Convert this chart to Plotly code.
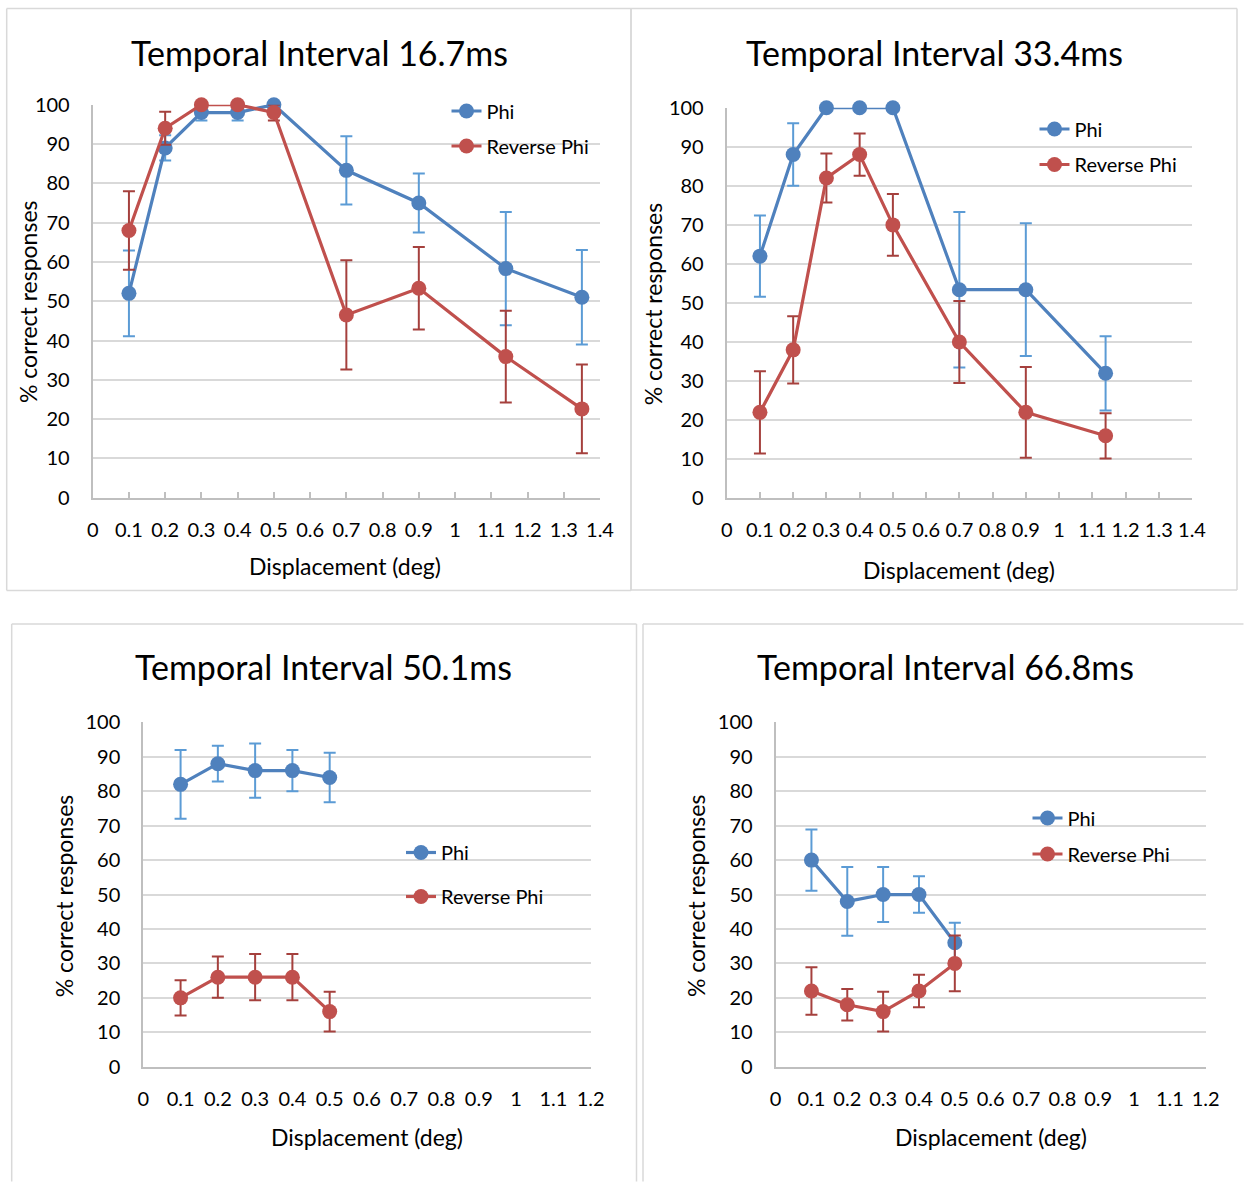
import plotly.graph_objects as go

# ---------------- data ----------------
panel_titles = [
    "Temporal Interval 16.7ms",
    "Temporal Interval 33.4ms",
    "Temporal Interval 50.1ms",
    "Temporal Interval 66.8ms",
]
series_names = ["Phi", "Reverse Phi"]
y_axis_title = "% correct responses"
x_axis_title = "Displacement (deg)"

# 16.7 ms
disp_167 = [0.1, 0.2, 0.3, 0.4, 0.5, 0.7, 0.9, 1.14, 1.35]
phi_167 = [52, 89, 98, 98, 100, 83.3, 75, 58.3, 51]
phi_167_err = [10.9, 3.2, 2, 2, 0, 8.7, 7.5, 14.4, 12]
rev_167 = [68, 94, 100, 100, 98, 46.5, 53.3, 35.9, 22.6]
rev_167_err = [10, 4.2, 0, 0, 2, 13.9, 10.5, 11.7, 11.3]

# 33.4 ms
disp_334 = [0.1, 0.2, 0.3, 0.4, 0.5, 0.7, 0.9, 1.14]
phi_334 = [62, 88, 100, 100, 100, 53.4, 53.4, 32]
phi_334_err = [10.4, 8, 0, 0, 0, 19.9, 17, 9.5]
rev_334 = [22, 38, 82, 88, 70, 40, 22, 16]
rev_334_err = [10.5, 8.6, 6.3, 5.4, 7.9, 10.5, 11.6, 5.8]

# 50.1 ms
disp_501 = [0.1, 0.2, 0.3, 0.4, 0.5]
phi_501 = [82, 88, 86, 86, 84]
phi_501_err = [10, 5.2, 7.9, 6, 7.2]
rev_501 = [20, 26, 26, 26, 16]
rev_501_err = [5.1, 6, 6.7, 6.7, 5.8]

# 66.8 ms
disp_668 = [0.1, 0.2, 0.3, 0.4, 0.5]
phi_668 = [60, 48, 50, 50, 36]
phi_668_err = [8.9, 10, 8, 5.3, 5.8]
rev_668 = [22, 18, 16, 22, 30]
rev_668_err = [6.9, 4.6, 5.8, 4.7, 8.1]

x_ticks_14 = [0, 0.1, 0.2, 0.3, 0.4, 0.5, 0.6, 0.7, 0.8, 0.9, 1.0, 1.1, 1.2, 1.3, 1.4]
x_labels_14 = ["0", "0.1", "0.2", "0.3", "0.4", "0.5", "0.6", "0.7", "0.8", "0.9", "1", "1.1", "1.2", "1.3", "1.4"]
x_ticks_12 = x_ticks_14[:13]
x_labels_12 = x_labels_14[:13]
y_ticks = [0, 10, 20, 30, 40, 50, 60, 70, 80, 90, 100]

# ---------------- styling / layout ----------------
W, H = 1244, 1182
FONT = "Lato"
BLUE, RED = "#4f81bd", "#c0504d"
BLUE_ERR, RED_ERR = "#5b9bd5", "#a5403d"
GRID, AXIS, FRAME = "#d9d9d9", "#bfbfbf", "#d9d9d9"


def px_x(p):
    return p / W


def px_y(p):
    return 1 - p / H


# frame edges: (left, right, top, bottom); None = edge not drawn (runs off the page)
panels = [
    dict(data=(disp_167, phi_167, phi_167_err, rev_167, rev_167_err),
         plot=(92.7, 600.0, 104.7, 497.7), xmax=1.4, ticks=(x_ticks_14, x_labels_14), inside_ticks=True,
         frame=(6.7, 631, 8.5, 590.5), title=(319, 52), ytitle=(28.6, 301.4), xtitle=(345, 565.5),
         legend=(446.5, 91.5), gap=6),
    dict(data=(disp_334, phi_334, phi_334_err, rev_334, rev_334_err),
         plot=(726.7, 1192.0, 107.7, 498.3), xmax=1.4, ticks=(x_ticks_14, x_labels_14), inside_ticks=True,
         frame=(631, 1237, 8.5, 590), title=(934.5, 52), ytitle=(652.7, 303.6), xtitle=(959, 570),
         legend=(1034.5, 109.5), gap=6.5),
    dict(data=(disp_501, phi_501, phi_501_err, rev_501, rev_501_err),
         plot=(143.3, 590.6, 722.4, 1066.7), xmax=1.2, ticks=(x_ticks_12, x_labels_12), inside_ticks=False,
         frame=(11.7, 636.5, 624, None), title=(323.5, 666), ytitle=(63.5, 895.7), xtitle=(367, 1136.5),
         legend=(401, 833), gap=15),
    dict(data=(disp_668, phi_668, phi_668_err, rev_668, rev_668_err),
         plot=(775.6, 1205.7, 722.4, 1066.7), xmax=1.2, ticks=(x_ticks_12, x_labels_12), inside_ticks=False,
         frame=(643, None, 624, None), title=(946, 666), ytitle=(695.4, 895.7), xtitle=(991, 1137),
         legend=(1027.5, 798.5), gap=7),
]

fig = go.Figure()
shapes, annotations = [], []
layout_axes = {}


def frame_line(xa, ya, xb, yb):
    return dict(type="line", xref="paper", yref="paper",
                x0=px_x(xa), y0=px_y(ya), x1=px_x(xb), y1=px_y(yb),
                line=dict(color=FRAME, width=1.5), layer="below")


for i, p in enumerate(panels, start=1):
    sfx = "" if i == 1 else str(i)
    xa, ya = f"x{sfx}", f"y{sfx}"
    leg = "legend" if i == 1 else f"legend{i}"
    x, phi, phi_err, rev, rev_err = p["data"]

    for name, yv, err, col, ecol in (
        (series_names[0], phi, phi_err, BLUE, BLUE_ERR),
        (series_names[1], rev, rev_err, RED, RED_ERR),
    ):
        fig.add_trace(go.Scatter(
            x=x, y=yv, name=name, mode="lines+markers",
            xaxis=xa, yaxis=ya, legend=leg, legendgroup=f"{leg}-{name}",
            line=dict(color=col, width=3.2),
            marker=dict(color=col, size=15),
            error_y=dict(type="data", array=err, visible=True, color=ecol, thickness=2, width=6),
            cliponaxis=False,
        ))

    x0, x1, y0, y1 = p["plot"]
    tv, tt = p["ticks"]
    layout_axes[f"xaxis{sfx}"] = dict(
        domain=[px_x(x0), px_x(x1)], anchor=ya, range=[0, p["xmax"]],
        tickvals=tv, ticktext=tt, showgrid=False, zeroline=False,
        showline=True, linecolor=AXIS, linewidth=2,
        ticks="inside" if p["inside_ticks"] else "", ticklen=6, tickwidth=1.5, tickcolor=AXIS,
        tickfont=dict(family=FONT, size=20, color="#000000"), ticklabelstandoff=13,
        automargin=False, fixedrange=True,
    )
    layout_axes[f"yaxis{sfx}"] = dict(
        domain=[px_y(y1), px_y(y0)], anchor=xa, range=[0, 100],
        tickvals=y_ticks, showgrid=True, gridcolor=GRID, gridwidth=2, zeroline=False,
        showline=True, linecolor=AXIS, linewidth=2, ticks="",
        tickfont=dict(family=FONT, size=20, color="#000000"), ticklabelstandoff=17,
        automargin=False, fixedrange=True,
    )

    lx, ly = p["legend"]
    layout_axes[leg] = dict(
        x=px_x(lx), y=px_y(ly), xanchor="left", yanchor="top",
        font=dict(family=FONT, size=20, color="#000000"),
        bgcolor="rgba(0,0,0,0)", tracegroupgap=p["gap"], itemclick=False,
    )

    fl, fr, ft, fb = p["frame"]
    right = fr if fr is not None else W - 0.5
    bottom = fb if fb is not None else H - 0.5
    shapes.append(frame_line(fl, ft, right, ft))
    shapes.append(frame_line(fl, ft, fl, bottom))
    if fr is not None:
        shapes.append(frame_line(fr, ft, fr, bottom))
    if fb is not None:
        shapes.append(frame_line(fl, fb, right, fb))

    tx, ty = p["title"]
    annotations.append(dict(text=panel_titles[i - 1], xref="paper", yref="paper",
                            x=px_x(tx), y=px_y(ty), xanchor="center", yanchor="middle",
                            showarrow=False, font=dict(family=FONT, size=34, color="#000000")))
    yx, yy = p["ytitle"]
    annotations.append(dict(text=y_axis_title, xref="paper", yref="paper",
                            x=px_x(yx), y=px_y(yy), xanchor="center", yanchor="middle",
                            textangle=-90, showarrow=False,
                            font=dict(family=FONT, size=23, color="#000000")))
    ax, ay = p["xtitle"]
    annotations.append(dict(text=x_axis_title, xref="paper", yref="paper",
                            x=px_x(ax), y=px_y(ay), xanchor="center", yanchor="middle",
                            showarrow=False, font=dict(family=FONT, size=23, color="#000000")))

fig.update_layout(
    width=W, height=H,
    # fixed page geometry: nothing may push the margins out
    margin=dict(l=0, r=0, t=0, b=0, autoexpand=False),
    paper_bgcolor="white", plot_bgcolor="white",
    showlegend=True, shapes=shapes, annotations=annotations,
    font=dict(family=FONT, color="#000000"),
    **layout_axes,
)

fig.write_html("out.html", config=dict(displayModeBar=False))
